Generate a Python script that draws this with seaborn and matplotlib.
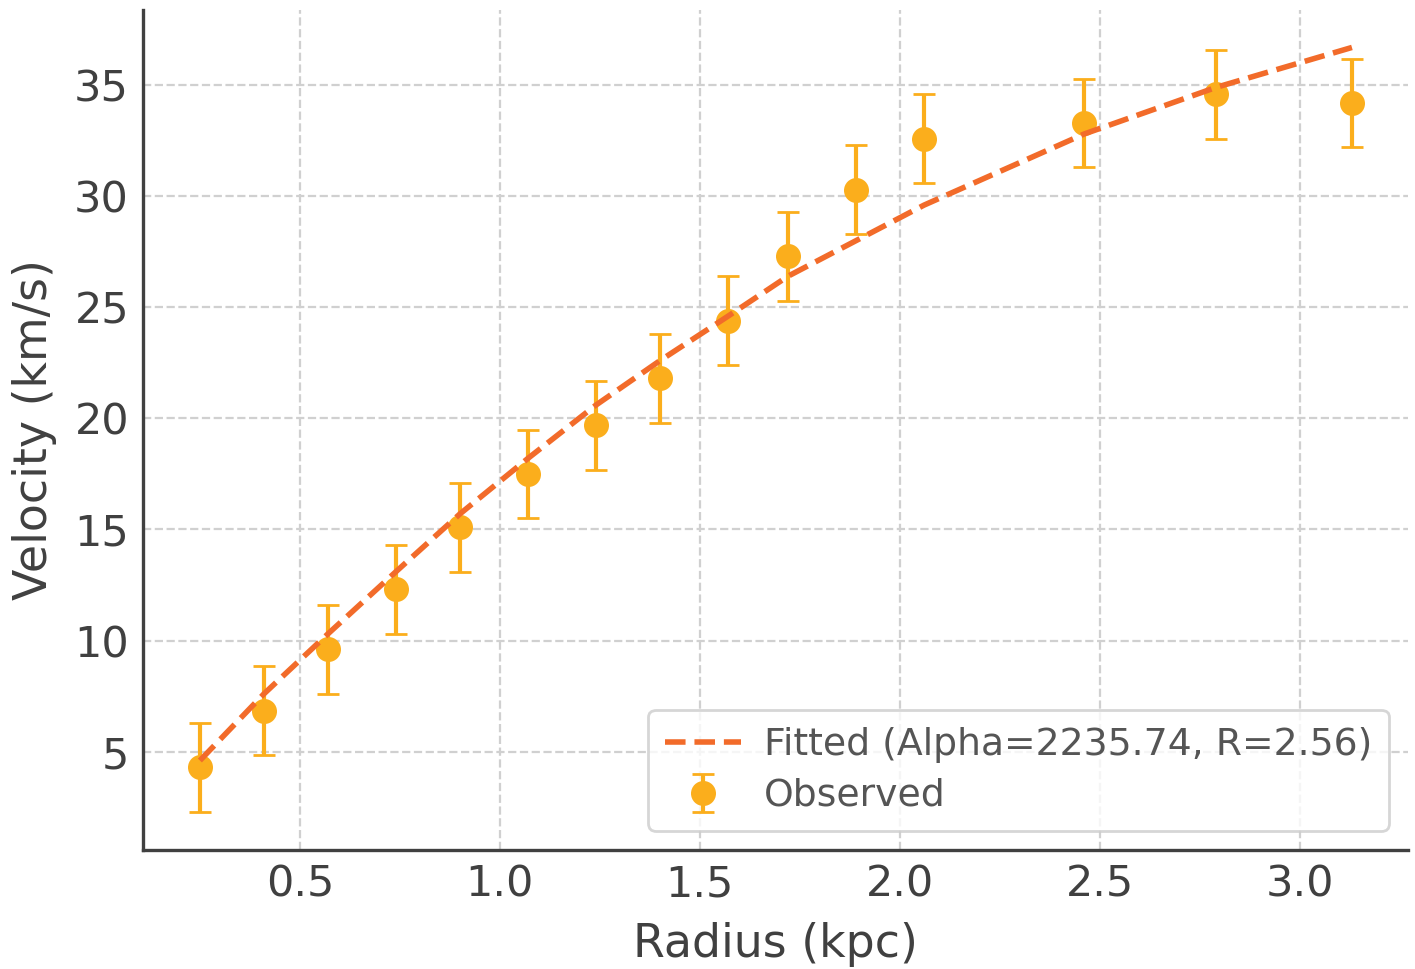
import numpy as np
import pandas as pd
import matplotlib
matplotlib.use("Agg")
import matplotlib.pyplot as plt
import seaborn as sns

radius = [0.25, 0.41, 0.57, 0.74, 0.90, 1.07, 1.24, 1.40, 1.57, 1.72, 1.89, 2.06, 2.46, 2.79, 3.13]
velocity = [4.3, 6.85, 9.6, 12.3, 15.1, 17.5, 19.7, 21.8, 24.4, 27.3, 30.3, 32.6, 33.3, 34.6, 34.2]
vel_err = [2.0] * len(radius)
fitted = [4.6, 7.6, 10.3, 13.1, 15.7, 18.2, 20.6, 22.6, 24.6, 26.4, 28.0, 29.6, 32.8, 34.9, 36.7]

fit_label = "Fitted (Alpha=2235.74, R=2.56)"
obs_label = "Observed"

sns.set_theme(style="whitegrid")
text_color = "#404040"
plt.rcParams.update({
    "font.family": ["DejaVu Sans"],
    "text.color": text_color,
    "axes.labelcolor": text_color,
    "xtick.color": text_color,
    "ytick.color": text_color,
})

fig, ax = plt.subplots(figsize=(7.075, 4.845), dpi=200)
fig.subplots_adjust(left=0.101, right=0.995, bottom=0.123, top=0.99)

df_fit = pd.DataFrame({"r": radius, "v": fitted})
sns.lineplot(data=df_fit, x="r", y="v", ax=ax, color="#F26B2A", linestyle="--",
             linewidth=2.0, label=fit_label, zorder=3)
ax.errorbar(radius, velocity, yerr=vel_err, fmt="o", color="#FBAE1C",
            ecolor="#FBAE1C", elinewidth=1.5, capsize=4, capthick=1.0,
            markersize=8, label=obs_label, zorder=2)

ax.set_xlim(0.1075, 3.27)
ax.set_ylim(0.58, 38.4)
ax.set_xticks([0.5, 1.0, 1.5, 2.0, 2.5, 3.0])
ax.set_yticks([5, 10, 15, 20, 25, 30, 35])
ax.set_xlabel("Radius (kpc)", fontsize=16.5, labelpad=6)
ax.set_ylabel("Velocity (km/s)", fontsize=16.5, labelpad=6)
ax.tick_params(axis="both", labelsize=15.5, direction="in", length=4.5, width=1.1,
               color="#404040", pad=5)

ax.grid(True, linestyle="--", color="#d0d0d0", linewidth=0.8)
for side in ["top", "right"]:
    ax.spines[side].set_visible(False)
for side in ["left", "bottom"]:
    ax.spines[side].set_color("#404040")
    ax.spines[side].set_linewidth(1.2)

leg = ax.legend(loc="lower right", fontsize=13.6, frameon=True, fancybox=True,
                borderpad=0.45, handlelength=2.0, handletextpad=0.6,
                labelspacing=0.4)
leg.get_frame().set_edgecolor("#cccccc")
leg.get_frame().set_linewidth(1.0)
for t in leg.get_texts():
    t.set_color("#555555")

fig.savefig("out.png", dpi=200)
